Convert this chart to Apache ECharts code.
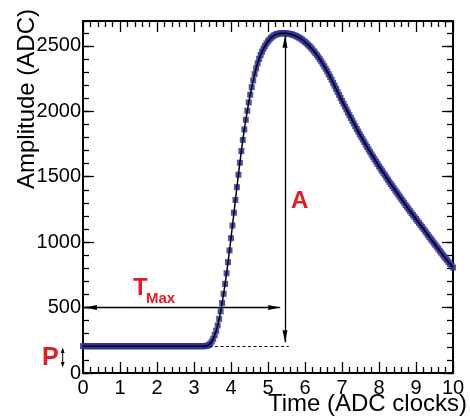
<!DOCTYPE html>
<html>
<head>
<meta charset="utf-8">
<script src="https://cdn.jsdelivr.net/npm/echarts@6/dist/echarts.min.js"></script>
<style>
  html, body { margin: 0; padding: 0; background: #ffffff; }
  #chart { width: 470px; height: 418px; }
</style>
</head>
<body>
<div id="chart"></div>
<script>
// Digitised pulse: one sample every 0.04 ADC clocks, from t = 0 to t = 10
const sampleStep = 0.04;
const amplitude = [
  205, 205, 205, 205, 205, 205, 205, 205, 205, 205,
  205, 205, 205, 205, 205, 205, 205, 205, 205, 205,
  205, 205, 205, 205, 205, 205, 205, 205, 205, 205,
  205, 205, 205, 205, 205, 205, 205, 205, 205, 205,
  205, 205, 205, 205, 205, 205, 205, 205, 205, 205,
  205, 205, 205, 205, 205, 205, 205, 205, 205, 205,
  205, 205, 205, 205, 205, 205, 205, 205, 205, 205,
  205, 205, 205, 205, 205, 205, 205, 205, 205, 205,
  205, 205, 205, 206, 209, 214, 224, 240, 262, 290,
  323, 364, 414, 471, 535, 605, 681, 762, 847, 937,
  1030, 1127, 1225, 1323, 1420, 1515, 1607, 1696, 1781, 1861,
  1935, 2004, 2068, 2127, 2184, 2236, 2284, 2328, 2367, 2401,
  2430, 2456, 2479, 2500, 2518, 2535, 2549, 2561, 2571, 2579,
  2585, 2590, 2593, 2595, 2596, 2597, 2597, 2596, 2594, 2593,
  2591, 2588, 2584, 2580, 2575, 2569, 2563, 2556, 2548, 2539,
  2530, 2520, 2509, 2498, 2486, 2473, 2459, 2445, 2430, 2414,
  2398, 2381, 2363, 2344, 2325, 2305, 2284, 2263, 2241, 2218,
  2195, 2172, 2149, 2126, 2103, 2080, 2058, 2036, 2014, 1992,
  1970, 1949, 1928, 1907, 1886, 1865, 1845, 1825, 1805, 1785,
  1765, 1746, 1727, 1708, 1689, 1670, 1652, 1634, 1616, 1598,
  1580, 1563, 1546, 1529, 1512, 1495, 1478, 1461, 1444, 1428,
  1412, 1396, 1380, 1364, 1348, 1332, 1316, 1300, 1284, 1268,
  1252, 1237, 1222, 1207, 1192, 1177, 1162, 1147, 1132, 1117,
  1102, 1087, 1071, 1055, 1040, 1025, 1010, 995, 980, 965,
  950, 935, 920, 905, 890, 876, 862, 848, 834, 820,
  806
];

// Axis tick labels
const xTicks = [0, 1, 2, 3, 4, 5, 6, 7, 8, 9, 10];
const yTicks = [0, 500, 1000, 1500, 2000, 2500];

// Pulse parameters marked on the plot
const pedestal = 205;     // P
const peakTime = 5.46;    // T_Max
const peakAmp = 2597;     // pedestal + A
const tmaxLevel = 500;    // height of the T_Max arrow

const FONT = '"Liberation Sans", Arial, Helvetica, sans-serif';
const RED = '#dc1e26';
const BLUE = '#33339c';

const samples = amplitude.map((v, i) => [+(i * sampleStep).toFixed(2), v]);

const arrowHead = 'path://M0,0 L2.5,12 L-2.5,12 Z';
function arrowEnd(coord) {
  return { coord: coord, symbol: arrowHead, symbolSize: [5, 12], symbolOffset: [0, 6] };
}
function plainEnd(coord) {
  return { coord: coord, symbol: 'none' };
}

function annotation(name, from, to, lineStyle) {
  return {
    name: name,
    type: 'line',
    data: [],
    silent: true,
    animation: false,
    markLine: {
      silent: true,
      animation: false,
      symbol: ['none', 'none'],
      label: { show: false },
      emphasis: { disabled: true },
      lineStyle: Object.assign({ color: '#000000', width: 1.3, type: 'solid' }, lineStyle || {}),
      data: [[from, to]]
    }
  };
}

// frame axes stay on the plot edges; ticks point into the plotting area
const frameLine = { show: true, onZero: false, lineStyle: { color: '#000000', width: 2 } };
const hiddenLine = { show: false, onZero: false };
const tickStyle = { color: '#000', width: 1.3 };

function xAxisDef(position, showLabels) {
  return {
    type: 'value',
    position: position,
    min: 0,
    max: 10,
    interval: 1,
    axisLine: frameLine,
    axisTick: { show: true, inside: true, length: 11, lineStyle: tickStyle },
    minorTick: { show: true, splitNumber: 5, length: 6, lineStyle: tickStyle },
    splitLine: { show: false },
    minorSplitLine: { show: false },
    axisLabel: {
      show: showLabels,
      margin: 5,
      fontFamily: FONT,
      fontSize: 20,
      color: '#000',
      formatter: v => (xTicks.indexOf(v) >= 0 ? String(v) : '')
    }
  };
}

function yAxisDef(position, interval, tickLen, showLine, showLabels) {
  return {
    type: 'value',
    position: position,
    min: 0,
    max: 2690,
    interval: interval,
    axisLine: showLine ? frameLine : hiddenLine,
    axisTick: { show: true, inside: true, length: tickLen, lineStyle: tickStyle },
    splitLine: { show: false },
    axisLabel: {
      show: showLabels,
      margin: 2,
      fontFamily: FONT,
      fontSize: 20,
      color: '#000',
      showMaxLabel: false,
      formatter: v => (yTicks.indexOf(v) >= 0 ? String(v) : '')
    }
  };
}

const option = {
  backgroundColor: '#ffffff',
  animation: false,
  grid: { left: 83, right: 17, top: 21, bottom: 45, containLabel: false },
  xAxis: [xAxisDef('bottom', true), xAxisDef('top', false)],
  yAxis: [
    yAxisDef('left', 500, 11, true, true),
    yAxisDef('right', 500, 11, true, false),
    yAxisDef('left', 100, 6, false, false),
    yAxisDef('right', 100, 6, false, false)
  ],
  series: [
    {
      name: 'samples',
      type: 'scatter',
      data: samples,
      symbol: 'rect',
      symbolSize: 6,
      itemStyle: { color: BLUE, opacity: 0.85 },
      silent: true,
      z: 2
    },
    {
      name: 'fit',
      type: 'line',
      data: samples,
      showSymbol: false,
      symbol: 'none',
      lineStyle: { color: '#000000', width: 1.5 },
      silent: true,
      z: 3
    },
    annotation('pedestal', plainEnd([0, pedestal]), plainEnd([5.56, pedestal]),
      { type: [3, 2.5], width: 1.2 }),
    annotation('tmax', arrowEnd([0.05, tmaxLevel]), arrowEnd([peakTime - 0.13, tmaxLevel])),
    annotation('amp', arrowEnd([peakTime, peakAmp - 20]), arrowEnd([peakTime, pedestal + 30]))
  ],
  graphic: [
    {
      type: 'text', x: 467, y: 404, silent: true,
      style: { text: 'Time (ADC clocks)', font: '24px ' + FONT, fill: '#000',
        align: 'right', textAlign: 'right', verticalAlign: 'middle', textVerticalAlign: 'middle' }
    },
    {
      type: 'text', x: 27, y: 9, rotation: Math.PI / 2, silent: true,
      style: { text: 'Amplitude (ADC)', font: '24px ' + FONT, fill: '#000',
        align: 'right', textAlign: 'right', verticalAlign: 'middle', textVerticalAlign: 'middle' }
    },
    {
      type: 'text', x: 133, y: 288, silent: true,
      style: { text: 'T', font: 'bold 24px ' + FONT, fill: RED,
        align: 'left', textAlign: 'left', verticalAlign: 'middle', textVerticalAlign: 'middle' }
    },
    {
      type: 'text', x: 146, y: 298.5, silent: true,
      style: { text: 'Max', font: 'bold 15px ' + FONT, fill: RED,
        align: 'left', textAlign: 'left', verticalAlign: 'middle', textVerticalAlign: 'middle' }
    },
    {
      type: 'text', x: 291, y: 201, silent: true,
      style: { text: 'A', font: 'bold 24px ' + FONT, fill: RED,
        align: 'left', textAlign: 'left', verticalAlign: 'middle', textVerticalAlign: 'middle' }
    },
    {
      type: 'text', x: 42, y: 358, silent: true,
      style: { text: 'P', font: 'bold 25px ' + FONT, fill: RED,
        align: 'left', textAlign: 'left', verticalAlign: 'middle', textVerticalAlign: 'middle' }
    },
    {
      type: 'line', silent: true,
      shape: { x1: 62.7, y1: 351, x2: 62.7, y2: 364 },
      style: { stroke: '#000', lineWidth: 1 }
    },
    {
      type: 'polygon', silent: true,
      shape: { points: [[62.7, 347.5], [60.8, 353], [64.6, 353]] },
      style: { fill: '#000' }
    },
    {
      type: 'polygon', silent: true,
      shape: { points: [[62.7, 367.5], [60.8, 362], [64.6, 362]] },
      style: { fill: '#000' }
    }
  ]
};

const chart = echarts.init(document.getElementById('chart'), null, { renderer: 'canvas' });
chart.setOption(option);
</script>
</body>
</html>
